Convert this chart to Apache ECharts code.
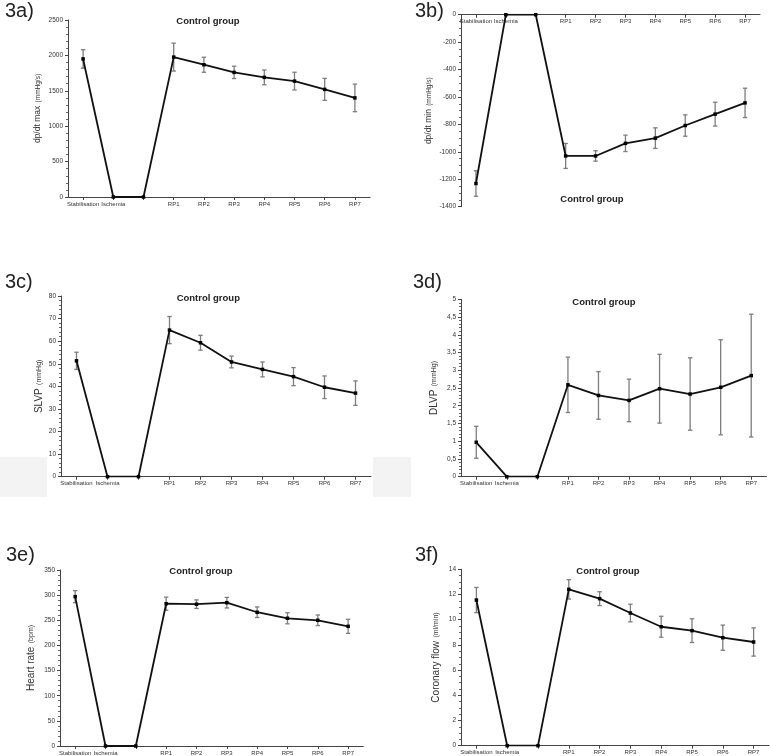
<!DOCTYPE html>
<html>
<head>
<meta charset="utf-8">
<script src="https://cdn.jsdelivr.net/npm/echarts@6/dist/echarts.min.js"></script>
<style>
html,body{margin:0;padding:0;background:#fff;}
#chart{width:771px;height:756px;}
</style>
</head>
<body>
<div id="chart"></div>
<script>
const categories = ['Stabilisation', 'Ischemia', '', 'RP1', 'RP2', 'RP3', 'RP4', 'RP5', 'RP6', 'RP7'];

const dpdtMaxMean = [1950, 0, 0, 1976, 1868, 1760, 1690, 1637, 1520, 1400];
const dpdtMaxSd   = [130, 0, 0, 197, 106, 87, 104, 125, 155, 195];

const dpdtMinMean = [-1231, 0, 0, -1030, -1030, -938, -900, -808, -725, -643];
const dpdtMinSd   = [93, 0, 0, 91, 38, 60, 75, 78, 87, 107];

const slvpMean = [51.3, 0, 0, 64.9, 59.3, 50.8, 47.5, 44.3, 39.6, 37.0];
const slvpSd   = [3.8, 0, 0, 6.0, 3.3, 2.6, 3.3, 4.0, 5.0, 5.4];

const dlvpMean = [0.97, 0, 0, 2.59, 2.29, 2.15, 2.48, 2.33, 2.52, 2.85];
const dlvpSd   = [0.45, 0, 0, 0.78, 0.67, 0.60, 0.97, 1.02, 1.34, 1.73];

const hrMean = [297, 0, 0, 283, 282, 285, 266, 254, 250, 238];
const hrSd   = [12, 0, 0, 13, 8.5, 10.5, 10.5, 11, 10.5, 14];

const cfMean = [11.56, 0, 0, 12.41, 11.67, 10.53, 9.44, 9.13, 8.57, 8.23];
const cfSd   = [1.0, 0, 0, 0.77, 0.55, 0.70, 0.83, 0.94, 1.0, 1.12];

const panelLabels = ['3a)', '3b)', '3c)', '3d)', '3e)', '3f)'];
const titleText = 'Control group';
const yNames = [
  ['dp/dt max', '(mmHg/s)'],
  ['dp/dt min', '(mmHg/s)'],
  ['SLVP', '(mmHg)'],
  ['DLVP', '(mmHg)'],
  ['Heart rate', '(bpm)'],
  ['Coronary flow', '(ml/min)']
];
const yMin = [0, -1400, 0, 0, 0, 0];
const yMax = [2500, 0, 80, 5, 350, 14];
const yInterval = [500, 200, 10, 0.5, 50, 2];

const means = [dpdtMaxMean, dpdtMinMean, slvpMean, dlvpMean, hrMean, cfMean];
const sds = [dpdtMaxSd, dpdtMinSd, slvpSd, dlvpSd, hrSd, cfSd];

// layout (px)
const grids = [
  {left: 68, top: 20, width: 302, height: 177},
  {left: 461, top: 14.7, width: 299, height: 192},
  {left: 61, top: 296, width: 310, height: 180.7},
  {left: 461, top: 299.3, width: 305.5, height: 177.4},
  {left: 60, top: 570, width: 303.3, height: 176.7},
  {left: 461, top: 569.3, width: 308, height: 176.4}
];
const nameGaps = [24, 26, 12, 21, 23, 19];
const nameSizes = [[8.5, 6.5], [8.5, 6.5], [10, 7], [10, 7], [10, 7], [10, 7]];
const minorSplits = [5, 4, 5, 5, 5, 4];
const titlePos = [[208, 21.7], [592, 199], [208.3, 298.3], [604, 302], [201, 571], [608, 571]];
const labelPos = [[5, 11], [415, 11], [5, 282], [413, 282], [6, 555.5], [415, 555.5]];

const FONT = '"Liberation Sans", Arial, sans-serif';

const option = {
  animation: false,
  backgroundColor: '#fff',
  grid: [], xAxis: [], yAxis: [], series: [],
  graphic: []
};

// light grey boxes visible in the reference
option.graphic.push({type: 'rect', shape: {x: 0, y: 457, width: 47, height: 40}, style: {fill: '#f3f3f3'}, z: -10});
option.graphic.push({type: 'rect', shape: {x: 373, y: 457, width: 38, height: 40}, style: {fill: '#f3f3f3'}, z: -10});

function plainNum(v) { return String(v); }
function commaNum(v) { return String(Math.round(v * 10) / 10).replace('.', ','); }

for (let i = 0; i < 6; i++) {
  option.grid.push(Object.assign({containLabel: false}, grids[i]));
  const isTop = (i === 1);
  option.xAxis.push({
    type: 'category',
    gridIndex: i,
    data: categories,
    boundaryGap: true,
    position: isTop ? 'top' : 'bottom',
    axisLine: {onZero: false, lineStyle: {color: '#444', width: 1}},
    axisTick: {show: true, alignWithLabel: true, length: 3, inside: isTop, lineStyle: {color: '#444'}},
    axisLabel: {interval: 0, fontSize: 6, color: '#333', margin: 4, inside: isTop, fontFamily: FONT},
    splitLine: {show: false}
  });
  const sz = nameSizes[i];
  option.yAxis.push({
    type: 'value',
    gridIndex: i,
    min: yMin[i], max: yMax[i], interval: yInterval[i],
    name: '{a|' + yNames[i][0] + '} {b|' + yNames[i][1] + '}',
    nameLocation: 'middle',
    nameGap: nameGaps[i],
    nameTextStyle: {
      color: '#333', fontFamily: FONT,
      rich: {
        a: {fontSize: sz[0], color: '#333', fontFamily: FONT},
        b: {fontSize: sz[1], color: '#333', fontFamily: FONT}
      }
    },
    axisLine: {show: true, lineStyle: {color: '#444', width: 1}},
    axisTick: {show: true, length: 3, lineStyle: {color: '#444'}},
    minorTick: {show: true, splitNumber: minorSplits[i], length: 2, lineStyle: {color: '#666'}},
    axisLabel: {
      fontSize: 6.5, color: '#333', margin: 5, fontFamily: FONT,
      formatter: (i === 3) ? commaNum : plainNum
    },
    splitLine: {show: false}
  });

  const errData = [];
  for (let k = 0; k < categories.length; k++) {
    if (sds[i][k] > 0) errData.push([k, means[i][k] - sds[i][k], means[i][k] + sds[i][k]]);
  }
  option.series.push({
    type: 'custom',
    xAxisIndex: i, yAxisIndex: i,
    data: errData,
    encode: {x: 0, y: [1, 2]},
    z: 1,
    renderItem: function (params, api) {
      const x = api.value(0);
      const p1 = api.coord([x, api.value(1)]);
      const p2 = api.coord([x, api.value(2)]);
      const w = 2.2;
      const st = {stroke: '#7d7d7d', lineWidth: 1.3};
      return {
        type: 'group',
        children: [
          {type: 'line', shape: {x1: p1[0], y1: p1[1], x2: p2[0], y2: p2[1]}, style: st},
          {type: 'line', shape: {x1: p1[0] - w, y1: p1[1], x2: p1[0] + w, y2: p1[1]}, style: st},
          {type: 'line', shape: {x1: p2[0] - w, y1: p2[1], x2: p2[0] + w, y2: p2[1]}, style: st}
        ]
      };
    }
  });
  option.series.push({
    type: 'line',
    xAxisIndex: i, yAxisIndex: i,
    data: means[i],
    symbol: 'rect',
    symbolSize: 3.5,
    showSymbol: true,
    z: 3,
    lineStyle: {color: '#111', width: 1.8},
    itemStyle: {color: '#000'}
  });

  option.graphic.push({
    type: 'text',
    x: titlePos[i][0], y: titlePos[i][1],
    style: {
      text: titleText, font: 'bold 9.5px ' + FONT, fill: '#222',
      textAlign: 'center', textVerticalAlign: 'middle', align: 'center', verticalAlign: 'middle'
    }
  });
  option.graphic.push({
    type: 'text',
    x: labelPos[i][0], y: labelPos[i][1],
    style: {
      text: panelLabels[i], font: '20px ' + FONT, fill: '#222',
      textAlign: 'left', textVerticalAlign: 'middle', align: 'left', verticalAlign: 'middle'
    }
  });
}

const chart = echarts.init(document.getElementById('chart'), null, {renderer: 'canvas'});
chart.setOption(option);
</script>
</body>
</html>
